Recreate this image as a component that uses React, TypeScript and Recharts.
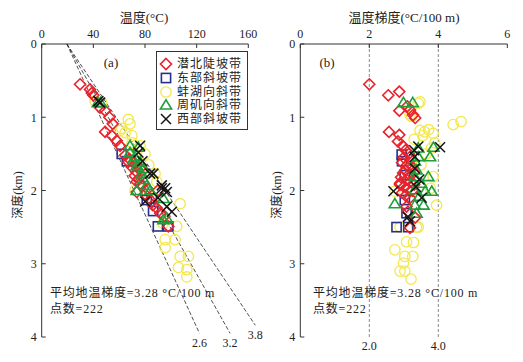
/** 地温剖面双图：(a) 温度-深度散点 + 地温梯度参考线，(b) 地温梯度-深度散点。 */

import { ReferenceDot, ReferenceLine, Scatter, ScatterChart, XAxis, YAxis } from 'recharts';

const FONT = "'Liberation Serif', 'Noto Sans CJK SC', serif";

// (a) 温度(°C), 深度(km)
const qianbeiTemp = [
  [29.7, 0.55], [37.4, 0.62], [38.8, 0.67], [40, 0.7], [45.2, 0.87], [49.1, 0.91], [52.4, 1.0], [55, 1.09],
  [49.1, 1.2], [54.3, 1.25], [58.1, 1.32], [60.7, 1.39], [64.6, 1.52], [67.1, 1.61], [69.8, 1.68], [73.6, 1.75],
  [68, 1.57], [71, 1.62], [74, 1.66], [76, 1.7], [78.8, 1.72], [72, 1.8], [75, 1.84], [73.6, 1.88],
  [77.5, 1.93], [76.2, 1.91], [73.6, 2.02], [80, 2.05], [85.3, 2.15], [89.1, 2.24], [91.7, 2.31], [86, 2.2],
  [95, 2.35], [98.1, 2.49], [90, 2.0], [82, 1.98],
];
const dongbuTemp = [[62, 1.5], [85.3, 2.11], [81.4, 2.13], [86.3, 2.28], [90, 2.49], [98, 2.49], [66, 1.6]];
const bengbuTemp = [
  [41.3, 0.78], [46.5, 0.8], [67.1, 1.03], [68.4, 1.09], [60.7, 1.18], [64.6, 1.21], [69.8, 1.25], [62, 1.15],
  [76.2, 1.39], [70, 1.35], [74, 1.45], [80, 1.5], [87.8, 1.77], [89.1, 1.88], [72.3, 2.0], [107.2, 2.18],
  [104.6, 2.49], [95.6, 2.67], [103.3, 2.67], [95.6, 2.78], [107.2, 2.9], [113.6, 2.9], [105.9, 3.05],
  [112.4, 3.08], [112.4, 3.18], [85, 2.1], [94, 2.45], [83, 1.65],
];
const zhoujiTemp = [
  [43.5, 0.8], [45.6, 0.8], [68.4, 1.39], [74.9, 1.41], [68.4, 1.48], [72.3, 1.54], [76.2, 1.61], [78.8, 1.7],
  [77.5, 1.77], [73.6, 2.0], [81.4, 1.93], [73.6, 1.66], [84, 2.0], [94.3, 2.11], [96.9, 2.38], [94.3, 2.4],
  [79, 1.85], [71, 1.58],
];
const xibuTemp = [
  [43.9, 0.78], [45.2, 0.8], [76.2, 1.39], [74.9, 1.48], [86.5, 1.77], [84, 1.77], [93, 1.93], [95.6, 1.97],
  [93, 1.97], [96.9, 2.02], [80.1, 2.15], [96.9, 2.22], [100.8, 2.29], [78, 1.6], [90, 2.1],
];

// (b) 温度梯度(°C/100 m), 深度(km)
const qianbeiGrad = [
  [2.0, 0.55], [2.55, 0.7], [2.87, 0.65], [2.87, 0.91], [3.18, 0.9], [3.27, 0.97], [3.33, 1.01], [3.1, 0.85],
  [2.57, 1.2], [2.87, 1.24], [2.83, 1.33], [2.97, 1.39], [3.05, 1.45], [3.15, 1.5], [3.0, 1.55], [3.2, 1.58],
  [2.95, 1.62], [3.1, 1.65], [3.25, 1.68], [3.05, 1.72], [2.98, 1.76], [3.15, 1.78], [3.3, 1.75], [2.92, 1.82],
  [3.08, 1.85], [3.2, 1.88], [2.89, 1.92], [3.0, 1.95], [3.12, 1.98], [3.25, 2.0], [2.95, 2.03], [3.05, 2.07],
  [3.18, 2.1], [3.3, 1.92], [3.08, 2.22], [3.12, 2.29], [3.33, 2.37], [3.18, 2.51], [2.89, 1.9],
];
const dongbuGrad = [[2.94, 1.51], [3.03, 1.79], [3.03, 2.13], [3.08, 2.31], [2.79, 2.5], [3.13, 2.5], [2.95, 1.6]];
const bengbuGrad = [
  [3.42, 0.81], [3.47, 0.79], [3.23, 0.99], [3.18, 0.97], [4.43, 1.1], [4.66, 1.06], [3.47, 1.18], [3.6, 1.2],
  [3.72, 1.17], [3.85, 1.22], [3.55, 1.25], [3.8, 1.42], [3.65, 1.5], [3.85, 1.81], [3.77, 1.97], [3.95, 2.2],
  [2.74, 2.01], [2.89, 2.5], [3.37, 2.5], [3.42, 2.5], [2.74, 2.81], [3.08, 2.7], [3.28, 2.71], [3.03, 2.9],
  [3.26, 2.9], [2.99, 2.99], [2.89, 3.1], [3.03, 3.1], [3.21, 3.21], [3.5, 1.65], [3.9, 1.35], [3.3, 1.3],
];
const zhoujiGrad = [
  [2.99, 0.8], [3.26, 0.8], [3.42, 1.42], [3.86, 1.41], [3.76, 1.54], [3.42, 1.54], [3.32, 1.6], [3.37, 1.72],
  [3.32, 1.81], [3.71, 1.81], [3.32, 1.99], [3.62, 2.01], [3.81, 2.01], [2.74, 2.18], [3.32, 2.2], [3.57, 2.2],
  [3.37, 2.31], [3.5, 1.9], [3.45, 2.08],
];
const xibuGrad = [
  [3.42, 1.4], [4.05, 1.41], [3.32, 1.54], [3.32, 1.7], [2.7, 2.01], [3.52, 2.1], [3.18, 2.42], [3.12, 2.36],
  [3.3, 1.45], [3.45, 1.85], [3.35, 1.95],
];

const seriesNames = ['潜北陡坡带', '东部斜坡带', '蚌湖向斜带', '周矶向斜带', '西部斜坡带'];

// 参考线：地表温度 + 梯度 (°C/100 m)，止于深度 (km)
const surfaceTemp = 19.5;
const fanGradients = [2.6, 3.2, 3.8];
const fanEndDepths = [3.95, 3.95, 3.84];

const tempTicks = [0, 40, 80, 120, 160];
const gradTicks = [0, 2, 4, 6];
const depthTicks = [0, 1, 2, 3, 4];
const gradGuides = [2, 4];

const RED = '#e8232c';
const BLUE = '#25308c';
const YELLOW = '#f3e850';
const GREEN = '#1e9f3a';
const BLACK = '#151515';

const toPts = (arr: number[][]) => arr.map(([x, y]) => ({ x, y }));

const Diamond = ({ cx, cy }: any) => (
  <polygon
    points={`${cx},${cy - 5.5} ${cx + 5.5},${cy} ${cx},${cy + 5.5} ${cx - 5.5},${cy}`}
    fill="none"
    stroke={RED}
    strokeWidth={1.6}
  />
);
const Square = ({ cx, cy }: any) => (
  <rect x={cx - 4.6} y={cy - 4.6} width={9.2} height={9.2} fill="none" stroke={BLUE} strokeWidth={1.6} />
);
const Circle = ({ cx, cy }: any) => (
  <circle cx={cx} cy={cy} r={5.2} fill="none" stroke={YELLOW} strokeWidth={1.3} />
);
const Triangle = ({ cx, cy }: any) => (
  <polygon
    points={`${cx},${cy - 5.2} ${cx + 5.6},${cy + 4} ${cx - 5.6},${cy + 4}`}
    fill="none"
    stroke={GREEN}
    strokeWidth={1.6}
  />
);
const Cross = ({ cx, cy }: any) => (
  <g stroke={BLACK} strokeWidth={1.5}>
    <line x1={cx - 5} y1={cy - 5} x2={cx + 5} y2={cy + 5} />
    <line x1={cx - 5} y1={cy + 5} x2={cx + 5} y2={cy - 5} />
  </g>
);

const shapes = [Diamond, Square, Circle, Triangle, Cross];
// 绘制顺序：黄、蓝、红、绿、黑
const drawOrder = [2, 1, 0, 3, 4];

const tickStyle = { fill: '#222', fontSize: 12, fontFamily: FONT };
const axisLine = { stroke: '#333', strokeWidth: 1 };

const LegendBox = () => (
  <div
    style={{
      position: 'absolute',
      left: 156,
      top: 51,
      width: 92,
      height: 79,
      border: '1px solid #333',
      background: '#fff',
      boxSizing: 'border-box',
    }}
  >
    {seriesNames.map((name, i) => {
      const Shape = shapes[i];
      return (
        <div
          key={name}
          style={{
            position: 'absolute',
            left: 2,
            top: 5 + i * 13.8,
            height: 14,
            display: 'flex',
            alignItems: 'center',
            whiteSpace: 'nowrap',
          }}
        >
          <svg width={14} height={14} style={{ overflow: 'visible', flex: 'none' }}>
            <Shape cx={7} cy={7} />
          </svg>
          <span
            style={{
              marginLeft: 4,
              fontSize: 12,
              letterSpacing: 1,
              fontFamily: FONT,
              color: '#222',
              lineHeight: '14px',
            }}
          >
            {name}
          </span>
        </div>
      );
    })}
  </div>
);

const textBase = { position: 'absolute' as const, fontFamily: FONT, color: '#222', whiteSpace: 'nowrap' as const };

const Panel = ({
  data,
  xDomain,
  xTicks,
  width,
  yWidth,
  rightMargin,
  children,
}: {
  data: number[][][];
  xDomain: [number, number];
  xTicks: number[];
  width: number;
  yWidth: number;
  rightMargin: number;
  children?: any;
}) => (
  <ScatterChart width={width} height={362} margin={{ top: 14, right: rightMargin, bottom: 25, left: 0 }}>
    <XAxis
      type="number"
      dataKey="x"
      orientation="top"
      domain={xDomain}
      ticks={xTicks}
      height={30}
      tickSize={-4}
      tickMargin={10}
      tick={tickStyle}
      axisLine={axisLine}
      tickLine={axisLine}
    />
    <YAxis
      type="number"
      dataKey="y"
      domain={[0, 4]}
      ticks={depthTicks}
      reversed
      width={yWidth}
      tickSize={-4}
      tickMargin={9}
      tick={tickStyle}
      axisLine={axisLine}
      tickLine={axisLine}
    />
    {children}
    {drawOrder.map(i => (
      <Scatter
        key={seriesNames[i]}
        name={seriesNames[i]}
        data={toPts(data[i])}
        shape={shapes[i]}
        isAnimationActive={false}
      />
    ))}
  </ScatterChart>
);

export default function App() {
  const tempData = [qianbeiTemp, dongbuTemp, bengbuTemp, zhoujiTemp, xibuTemp];
  const gradData = [qianbeiGrad, dongbuGrad, bengbuGrad, zhoujiGrad, xibuGrad];

  return (
    <div style={{ position: 'absolute', left: 0, top: 0, width: 523, height: 362, background: '#fff', fontFamily: FONT }}>
      <div style={{ position: 'absolute', left: 0, top: 0 }}>
        <Panel data={tempData} xDomain={[0, 160]} xTicks={tempTicks} width={278} yWidth={41.7} rightMargin={29.7}>
          {fanGradients.map((g, i) => (
            <ReferenceLine
              key={`fan-${g}`}
              segment={[
                { x: surfaceTemp, y: 0 },
                { x: surfaceTemp + g * 10 * fanEndDepths[i], y: fanEndDepths[i] },
              ]}
              ifOverflow="visible"
              stroke="#222"
              strokeWidth={0.8}
              strokeDasharray="4 2"
            />
          ))}
          {fanGradients.map((g, i) => (
            <ReferenceDot
              key={`fanlab-${g}`}
              x={surfaceTemp + g * 10 * fanEndDepths[i]}
              y={fanEndDepths[i]}
              r={0}
              stroke="none"
              fill="none"
              ifOverflow="visible"
              label={{ value: g.toFixed(1), position: 'bottom', offset: 5, fill: '#222', fontSize: 12, fontFamily: FONT }}
            />
          ))}
        </Panel>
      </div>
      <div style={{ position: 'absolute', left: 260, top: 0 }}>
        <Panel data={gradData} xDomain={[0, 6]} xTicks={gradTicks} width={263} yWidth={40.3} rightMargin={15.7}>
          {gradGuides.map(v => (
            <ReferenceLine
              key={`guide-${v}`}
              x={v}
              stroke="#8a8a8a"
              strokeWidth={1}
              strokeDasharray="3 2"
              label={{ value: v.toFixed(1), position: 'bottom', offset: 4, fill: '#222', fontSize: 12, fontFamily: FONT }}
            />
          ))}
        </Panel>
      </div>

      <LegendBox />

      <div style={{ ...textBase, left: 144, top: 16, fontSize: 13, transform: 'translate(-50%, -50%)' }}>温度(°C)</div>
      <div style={{ ...textBase, left: 404, top: 16, fontSize: 13, transform: 'translate(-50%, -50%)' }}>
        温度梯度(°C/100 m)
      </div>
      <div style={{ ...textBase, left: 17, top: 195, fontSize: 12, transform: 'translate(-50%, -50%) rotate(-90deg)' }}>
        深度(km)
      </div>
      <div style={{ ...textBase, left: 276, top: 195, fontSize: 12, transform: 'translate(-50%, -50%) rotate(-90deg)' }}>
        深度(km)
      </div>
      <div style={{ ...textBase, left: 111, top: 63, fontSize: 13, transform: 'translate(-50%, -50%)' }}>(a)</div>
      <div style={{ ...textBase, left: 327, top: 63, fontSize: 13, transform: 'translate(-50%, -50%)' }}>(b)</div>

      <div style={{ ...textBase, left: 50, top: 285, fontSize: 12, letterSpacing: 0.8, lineHeight: '16px' }}>
        平均地温梯度=3.28 °C/100 m
        <br />
        点数=222
      </div>
      <div style={{ ...textBase, left: 313, top: 285, fontSize: 12, letterSpacing: 0.8, lineHeight: '16px' }}>
        平均地温梯度=3.28 °C/100 m
        <br />
        点数=222
      </div>
    </div>
  );
}
